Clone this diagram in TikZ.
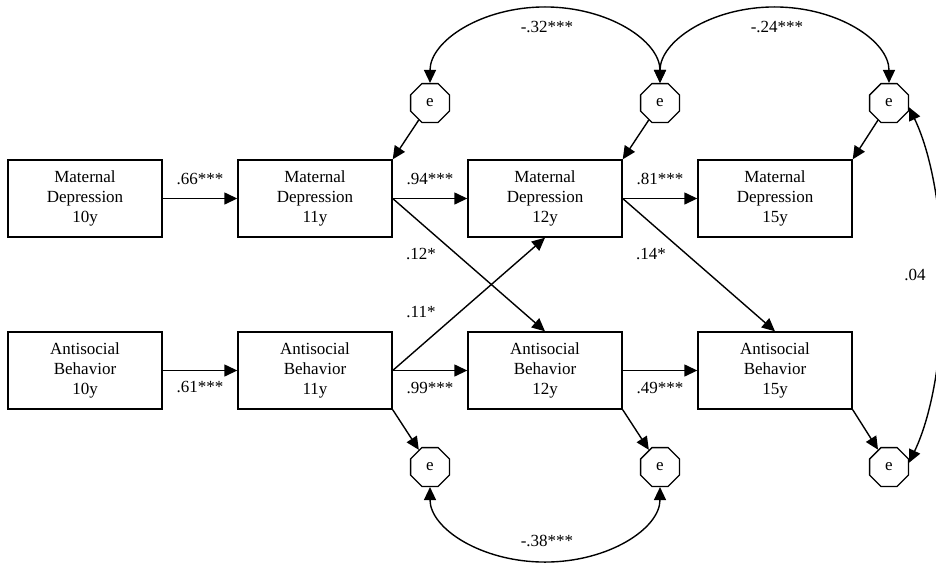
\documentclass[tikz,border=0pt]{standalone}
\usepackage{fontspec}
\setmainfont{Liberation Serif}
\usetikzlibrary{shapes.geometric,arrows.meta,calc}
\begin{document}
\begin{tikzpicture}[x=1pt,y=-1pt,
  every node/.style={font=\fontsize{17}{20}\selectfont},
  var/.style={draw,line width=1.4pt,minimum width=154pt,minimum height=77pt,inner sep=0pt,align=center},
  err/.style={draw,line width=1.3pt,regular polygon,regular polygon sides=8,minimum size=42pt,inner sep=0pt},
  path/.style={line width=1.4pt,-{Triangle[length=13pt,width=12pt]}},
  cov/.style={line width=1.4pt,{Triangle[length=13pt,width=12pt]}-{Triangle[length=13pt,width=12pt]}},
  lab/.style={inner sep=0pt}]
\path[use as bounding box] (0,0) rectangle (936,563);
% boxes
\node[var] (md10) at (85,198.5) {Maternal\\Depression\\10y};
\node[var] (md11) at (315,198.5) {Maternal\\Depression\\11y};
\node[var] (md12) at (545,198.5) {Maternal\\Depression\\12y};
\node[var] (md15) at (775,198.5) {Maternal\\Depression\\15y};
\node[var] (ab10) at (85,370.5) {Antisocial\\Behavior\\10y};
\node[var] (ab11) at (315,370.5) {Antisocial\\Behavior\\11y};
\node[var] (ab12) at (545,370.5) {Antisocial\\Behavior\\12y};
\node[var] (ab15) at (775,370.5) {Antisocial\\Behavior\\15y};
% error terms
\node[err] (ea1) at (430,103) {e};
\node[err] (ea2) at (660,103) {e};
\node[err] (ea3) at (889,103) {e};
\node[err] (eb1) at (430,467) {e};
\node[err] (eb2) at (660,467) {e};
\node[err] (eb3) at (889,467) {e};
% paths
\draw[path] (md10) -- (md11);
\draw[path] (md11) -- (md12);
\draw[path] (md12) -- (md15);
\draw[path] (ab10) -- (ab11);
\draw[path] (ab11) -- (ab12);
\draw[path] (ab12) -- (ab15);
\draw[path] (md11.east) -- (ab12.north);
\draw[path] (md12.east) -- (ab15.north);
\draw[path] (ab11.east) -- (md12.south);
% error arrows
\draw[path] (ea1) -- (md11.north east);
\draw[path] (ea2) -- (md12.north east);
\draw[path] (ea3) -- (md15.north east);
\draw[path] (ab11.south east) -- (eb1);
\draw[path] (ab12.south east) -- (eb2);
\draw[path] (ab15.south east) -- (eb3);
% covariances (elliptic arcs)
\coordinate (p12) at ($(ea1.north)!0.5!(ea2.north)+(0,-76)$);
\coordinate (p23) at ($(ea2.north)!0.5!(ea3.north)+(0,-76)$);
\coordinate (pb) at ($(eb1.south)!0.5!(eb2.south)+(0,75)$);
\draw[cov] (ea1.north) .. controls +(0,-42) and +(-63.5,0) .. (p12) .. controls +(63.5,0) and +(0,-42) .. (ea2.north);
\draw[cov] (ea2.north) .. controls +(0,-42) and +(-63.3,0) .. (p23) .. controls +(63.3,0) and +(0,-42) .. (ea3.north);
\draw[cov] (eb1.south) .. controls +(0,41.5) and +(-63.5,0) .. (pb) .. controls +(63.5,0) and +(0,41.5) .. (eb2.south);
\draw[cov] (ea3.-12) .. controls +(43,90) and +(43,-90) .. (eb3.12);
% labels
\node[lab] (l66) at (200,179) {.66***};
\node[lab] (l94) at (430,179) {.94***};
\node[lab] (l81) at (660,179) {.81***};
\node[lab] (l12) at (421,254) {.12*};
\node[lab] (l14) at (651,254) {.14*};
\node[lab] (l11) at (421,312) {.11*};
\node[lab] (l61) at (200,387) {.61***};
\node[lab] (l99) at (430,388) {.99***};
\node[lab] (l49) at (660,388) {.49***};
\node[lab] (l32) at (547,27) {-.32***};
\node[lab] (l24) at (777,27) {-.24***};
\node[lab] (l38) at (547,541) {-.38***};
\node[lab] (l04) at (915,275) {.04};
\end{tikzpicture}
\end{document}
